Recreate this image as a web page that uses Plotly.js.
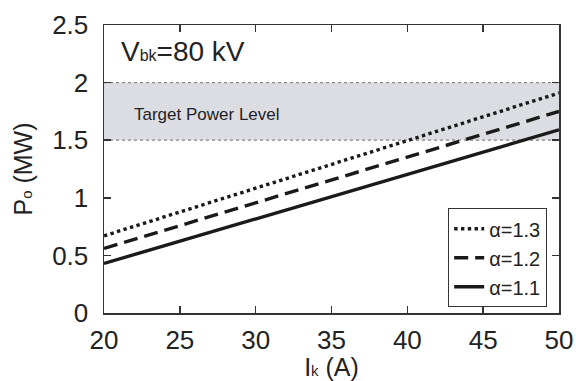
<!DOCTYPE html>
<html><head><meta charset="utf-8">
<script src="https://cdn.plot.ly/plotly-3.0.1.min.js"></script>
<style>body{margin:0;background:#fff}#c{width:576px;height:381px}</style>
</head><body><div id="c"></div>
<script>
const current = [20, 50];
const p_a13 = [0.67, 1.91];
const p_a12 = [0.56, 1.75];
const p_a11 = [0.43, 1.59];
const seriesNames = ['α=1.3', 'α=1.2', 'α=1.1'];
const targetLow = 1.5, targetHigh = 2.0;

const col = '#1a1a1a';
const traces = [
  {x: current, y: p_a13, name: seriesNames[0], mode: 'lines', line: {color: col, width: 3.4, dash: 'dot'}},
  {x: current, y: p_a12, name: seriesNames[1], mode: 'lines', line: {color: col, width: 3.4, dash: '14px,7px'}},
  {x: current, y: p_a11, name: seriesNames[2], mode: 'lines', line: {color: col, width: 3.4}}
];
const font = {family: 'Liberation Sans, Arial, sans-serif', color: '#222'};
const layout = {
  width: 576, height: 381,
  margin: {l: 104, r: 17, t: 25, b: 68},
  paper_bgcolor: '#fff', plot_bgcolor: '#fff',
  font: Object.assign({size: 26}, font),
  showlegend: true,
  legend: {x: 0.974, xanchor: 'right', y: 0.02, yanchor: 'bottom', bgcolor: '#fff',
    bordercolor: '#333', borderwidth: 1, font: Object.assign({size: 20}, font),
    tracegroupgap: 0, itemwidth: 30},
  xaxis: {range: [20, 50], dtick: 5, ticks: 'inside', ticklen: 7, tickwidth: 1.5, tickcolor: '#333',
    showline: true, linecolor: '#333', linewidth: 1.5, mirror: 'ticks', showgrid: false, zeroline: false,
    ticklabelstandoff: 3,
    tickfont: {size: 26},
    title: {text: 'I<span style="font-size:15px">k</span> (A)', font: {size: 25}, standoff: 4}},
  yaxis: {range: [0, 2.5], dtick: 0.5, ticks: 'inside', ticklen: 7, tickwidth: 1.5, tickcolor: '#333',
    showline: true, linecolor: '#333', linewidth: 1.5, mirror: 'ticks', showgrid: false, zeroline: false,
    ticklabelstandoff: 9,
    tickfont: {size: 26},
    title: {text: 'P<span style="font-size:15px">o</span> (MW)', font: {size: 25}, standoff: 12}},
  shapes: [
    {type: 'rect', xref: 'paper', x0: 0, x1: 1, yref: 'y', y0: targetLow, y1: targetHigh,
      fillcolor: '#dcdde2', line: {width: 0}, layer: 'below'},
    {type: 'line', xref: 'paper', x0: 0, x1: 1, yref: 'y', y0: targetHigh, y1: targetHigh,
      line: {color: '#888', width: 1.2, dash: 'dot'}, layer: 'below'},
    {type: 'line', xref: 'paper', x0: 0, x1: 1, yref: 'y', y0: targetLow, y1: targetLow,
      line: {color: '#888', width: 1.2, dash: 'dot'}, layer: 'below'}
  ],
  annotations: [
    {x: 21.85, y: 1.72, xref: 'x', yref: 'y', xanchor: 'left', yanchor: 'middle', showarrow: false,
      text: 'Target Power Level', font: Object.assign({size: 17}, font)},
    {x: 21, y: 2.27, xref: 'x', yref: 'y', xanchor: 'left', yanchor: 'middle', showarrow: false,
      text: 'V<span style="font-size:16px">bk</span>=80 kV', font: Object.assign({size: 28}, font)}
  ]
};
Plotly.newPlot('c', traces, layout, {staticPlot: true, displayModeBar: false});
</script></body></html>
